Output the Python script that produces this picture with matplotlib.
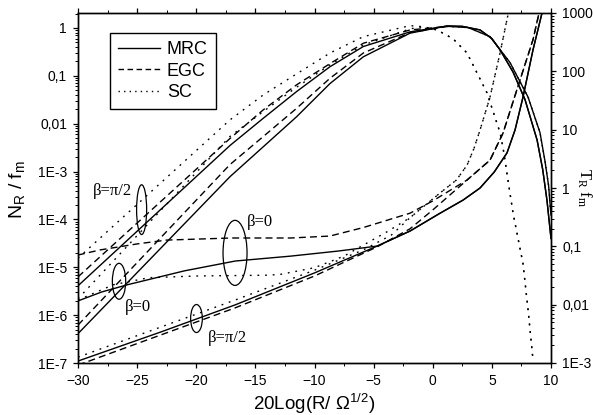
import numpy as np
import matplotlib
matplotlib.use('Agg')
import matplotlib.pyplot as plt
from matplotlib.lines import Line2D
from matplotlib.patches import Ellipse
from matplotlib.ticker import FixedLocator, FixedFormatter, LogLocator, NullFormatter, MultipleLocator

plt.rcParams['font.family'] = ['Liberation Sans', 'DejaVu Sans']
plt.rcParams['mathtext.default'] = 'regular'

# ---- level crossing rate N_R/f_m (left axis), rising part ----
nr_x = [-30, -17.15, -14.33, -11.51, -8.69, -5.87, -1.92]
nr_mrc_pi2 = [4.1e-6, 3.5e-3, 1.3e-2, 4.7e-2, 0.155, 0.41, 0.83]
nr_egc_pi2 = [6.3e-6, 4.9e-3, 1.95e-2, 6.5e-2, 0.18, 0.48, 0.91]
nr_sc_pi2 = [1.55e-5, 1.2e-2, 4.0e-2, 0.11, 0.30, 0.66, 1.12]
nr_mrc_0 = [4.1e-7, 7.8e-4, 3.3e-3, 1.4e-2, 6.9e-2, 0.25, 0.78]
nr_egc_0 = [6.2e-7, 1.4e-3, 5.4e-3, 2.1e-2, 8.9e-2, 0.30, 0.80]
nr_sc_0 = [2.2e-6, 5.4e-3, 1.8e-2, 5.8e-2, 0.17, 0.44, 0.96]

# high-threshold part, both beta coincide
nr_mrc_tail_x = [1.2, 2.5, 4.0, 5.0, 5.69, 6.79, 7.8, 8.82, 9.3, 9.66, 10]
nr_mrc_tail = [1.1, 1.08, 0.91, 0.6, 0.35, 0.12, 0.032, 4.6e-3, 1.1e-3, 2.5e-4, 4e-5]
nr_egc_tail_x = [1.3, 3.0, 4.84, 6.53, 8.06, 9.07, 9.5, 9.8, 10]
nr_egc_tail = [1.08, 1.02, 0.66, 0.19, 0.036, 6.5e-3, 1.6e-3, 5e-4, 1.2e-4]
nr_sc_tail_x = [-0.8, 0.36, 1.7, 2.9, 4.59, 5.69, 5.94, 6.79, 7.63, 8.06, 8.48]
nr_sc_tail = [1.06, 0.91, 0.6, 0.30, 0.044, 6.5e-3, 3.2e-3, 1.35e-4, 1.2e-5, 1.3e-6, 1.15e-7]

# ---- average fade duration T_R*f_m (right axis) ----
tr_mrc_pi2_x = [-30, -23, -16.72, -10, -4.7]
tr_mrc_pi2 = [1.08e-3, 3.4e-3, 9.9e-3, 3.5e-2, 0.101]
tr_mrc_0_x = [-30, -28, -25.8, -21, -16.7, -12, -8, -4.7]
tr_mrc_0 = [1.16e-2, 1.65e-2, 2.2e-2, 3.8e-2, 5.6e-2, 6.8e-2, 8.3e-2, 0.101]
tr_mrc_tail_x = [-1.92, 0.5, 2.56, 4.0, 5.2, 6.28, 6.96, 7.63, 8.48, 9.24]
tr_mrc_tail = [0.183, 0.358, 0.62, 1.0, 1.88, 4.0, 9.9, 36, 234, 1000]

tr_egc_0_x = [-30, -28.1, -25, -22.5, -17, -12, -8.7, -5.87, -1.92, 0]
tr_egc_0 = [0.071, 0.087, 0.11, 0.128, 0.139, 0.139, 0.15, 0.21, 0.37, 0.60]
tr_egc_pi2_x = [-30, -16.72, -10, -4.7, -1.92, 0]
tr_egc_pi2 = [9.2e-4, 8.8e-3, 3.1e-2, 0.098, 0.20, 0.42]
tr_egc_tail_x = [2.9, 4.84, 5.94, 7.38, 8.48, 8.99]
tr_egc_tail = [1.37, 3.0, 8.7, 71, 350, 1000]

tr_sc_0_x = [-30, -27, -24, -20, -14, -12.9, -10, -7.5, -5.87, -3.9]
tr_sc_0 = [1.2e-2, 2.2e-2, 2.9e-2, 3.1e-2, 3.2e-2, 3.3e-2, 4.3e-2, 6.8e-2, 0.105, 0.176]
tr_sc_pi2_x = [-30, -16.72, -10, -5.87, -3.5]
tr_sc_pi2 = [1.26e-3, 1.2e-2, 3.9e-2, 8.7e-2, 0.156]
tr_sc_tail_x = [-1.92, 0.61, 2.0, 2.9, 3.5, 4.0, 4.84, 5.69, 6.36]
tr_sc_tail = [0.31, 0.82, 1.37, 2.46, 4.85, 9.9, 36, 205, 930]

left_ticks = [1e-7, 1e-6, 1e-5, 1e-4, 1e-3, 1e-2, 1e-1, 1]
left_labels = ['1E-7', '1E-6', '1E-5', '1E-4', '1E-3', '0,01', '0,1', '1']
right_ticks = [1e-3, 1e-2, 1e-1, 1, 10, 100, 1000]
right_labels = ['1E-3', '0,01', '0,1', '1', '10', '100', '1000']

SOLID = '-'
DASH = (0, (5, 3))
DOT = (0, (1.3, 4.2))
LW = 1.0

fig = plt.figure(figsize=(5.93, 4.15), dpi=100)
ax = fig.add_axes([78 / 593, 52 / 415, 473 / 593, 350 / 415])
ax2 = ax.twinx()

# N_R curves
for ys in [nr_mrc_pi2, nr_mrc_0]:
    ax.plot(nr_x + nr_mrc_tail_x, ys + nr_mrc_tail, color='k', lw=LW, ls=SOLID)
for ys in [nr_egc_pi2, nr_egc_0]:
    ax.plot(nr_x + nr_egc_tail_x, ys + nr_egc_tail, color='k', lw=LW, ls=DASH)
for ys in [nr_sc_pi2, nr_sc_0]:
    ax.plot(nr_x + nr_sc_tail_x, ys + nr_sc_tail, color='k', lw=LW, ls=DOT)

# T_R curves
ax2.plot(tr_mrc_pi2_x + tr_mrc_tail_x, tr_mrc_pi2 + tr_mrc_tail, color='k', lw=LW, ls=SOLID)
ax2.plot(tr_mrc_0_x + tr_mrc_tail_x, tr_mrc_0 + tr_mrc_tail, color='k', lw=LW, ls=SOLID)
ax2.plot(tr_egc_0_x + tr_egc_tail_x, tr_egc_0 + tr_egc_tail, color='k', lw=LW, ls=DASH)
ax2.plot(tr_egc_pi2_x + tr_egc_tail_x, tr_egc_pi2 + tr_egc_tail, color='k', lw=LW, ls=DASH)
ax2.plot(tr_sc_0_x + tr_sc_tail_x, tr_sc_0 + tr_sc_tail, color='k', lw=LW, ls=DOT)
ax2.plot(tr_sc_pi2_x + tr_sc_tail_x, tr_sc_pi2 + tr_sc_tail, color='k', lw=LW, ls=DOT)

# axes
ax.set_xlim(-30, 10)
ax.set_yscale('log')
ax.set_ylim(1e-7, 10 ** 0.313)
ax2.set_yscale('log')
ax2.set_ylim(1e-3, 1e3)

ax.xaxis.set_major_locator(MultipleLocator(5))
ax.xaxis.set_minor_locator(MultipleLocator(2.5))
ax.yaxis.set_major_locator(FixedLocator(left_ticks))
ax.yaxis.set_major_formatter(FixedFormatter(left_labels))
ax.yaxis.set_minor_locator(LogLocator(base=10, subs=np.arange(2, 10)))
ax.yaxis.set_minor_formatter(NullFormatter())
ax2.yaxis.set_major_locator(FixedLocator(right_ticks))
ax2.yaxis.set_major_formatter(FixedFormatter(right_labels))
ax2.yaxis.set_minor_locator(LogLocator(base=10, subs=np.arange(2, 10)))
ax2.yaxis.set_minor_formatter(NullFormatter())

ax.tick_params(axis='x', which='both', direction='out', top=True, labelsize=10, pad=4.5)
ax.tick_params(axis='y', which='both', direction='out', right=False, labelsize=10, pad=4.5)
ax2.tick_params(axis='y', which='both', direction='out', labelsize=10, pad=4.5)
for a in (ax, ax2):
    a.tick_params(which='major', length=3.5, width=0.9)
    a.tick_params(which='minor', length=2, width=0.7)
    for s in a.spines.values():
        s.set_linewidth(1.0)

ax.set_xlabel('20Log(R/ $\\Omega^{1/2}$)', fontsize=13.5)
ax.xaxis.set_label_coords(0.5, -0.082)
ax.xaxis.label.set_va('top')
fig.text(17 / 593, 1 - 190 / 415, 'N$_R$ / f$_m$', rotation=90, fontsize=14,
         ha='center', va='center')
fig.text(584 / 593, 1 - 188 / 415, 'T$_R$ f$_m$', rotation=-90, fontsize=12,
         family='Liberation Serif', ha='center', va='center')

# ellipses and beta labels (on the left axis)
def ellipse(x0, y0, w_db, h_dec):
    to_ax = ax.transAxes.inverted()
    cx, cy = to_ax.transform(ax.transData.transform((x0, y0)))
    x1, _ = to_ax.transform(ax.transData.transform((x0 - w_db / 2, y0)))
    x2, _ = to_ax.transform(ax.transData.transform((x0 + w_db / 2, y0)))
    _, y1 = to_ax.transform(ax.transData.transform((x0, y0 / 10 ** (h_dec / 2))))
    _, y2 = to_ax.transform(ax.transData.transform((x0, y0 * 10 ** (h_dec / 2))))
    ax2.add_patch(Ellipse((cx, cy), x2 - x1, y2 - y1, transform=ax.transAxes,
                          fill=False, ec='k', lw=0.9))

ellipse(-24.62, 1.6e-4, 0.85, 1.04)
ellipse(-26.53, 5.1e-6, 1.13, 0.75)
ellipse(-16.72, 2.0e-5, 2.03, 1.36)
ellipse(-19.98, 8.5e-7, 0.99, 0.585)

serif = dict(family='Liberation Serif', fontsize=12, ha='center', va='center')
ax.text(-27.12, 3.9e-4, 'β=π/2', **serif)
ax.text(-24.93, 1.5e-6, 'β=0', **serif)
ax.text(-14.61, 8.9e-5, 'β=0', **serif)
ax.text(-17.4, 3.3e-7, 'β=π/2', **serif)

handles = [Line2D([], [], color='k', lw=LW, ls=SOLID),
           Line2D([], [], color='k', lw=LW, ls=(0, (4, 2.5))),
           Line2D([], [], color='k', lw=LW, ls=(0, (1, 3)))]
leg = ax2.legend(handles, ['MRC', 'EGC', 'SC'], loc='upper left',
                 bbox_to_anchor=(0.0677, 0.943), borderaxespad=0, fontsize=13,
                 handlelength=2.3, handletextpad=0.4, labelspacing=0.25,
                 borderpad=0.45, fancybox=False, framealpha=1, edgecolor='k')
leg.get_frame().set_linewidth(1.0)

fig.savefig('out.png', dpi=100)
